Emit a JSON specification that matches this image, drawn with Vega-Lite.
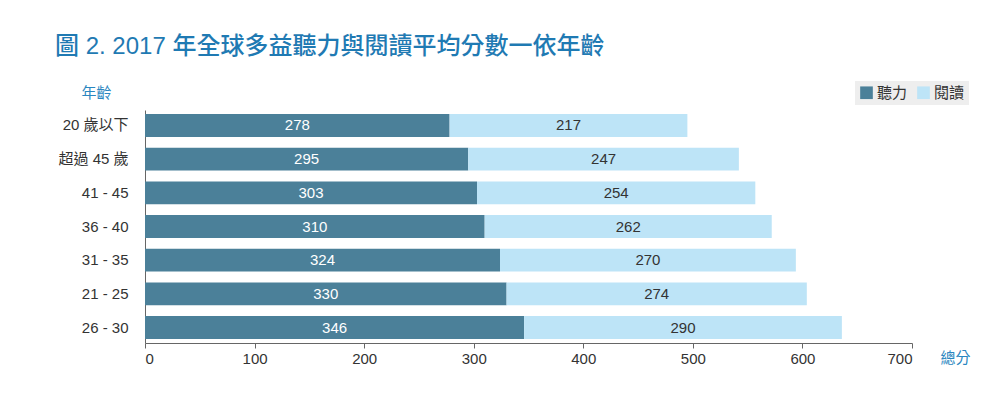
{
  "$schema": "https://vega.github.io/schema/vega-lite/v6.json",
  "autosize": {"type": "none"},
  "width": 767,
  "height": 233,
  "padding": {"left": 145, "top": 110, "right": 88, "bottom": 56},
  "background": "white",
  "config": {
    "font": "Liberation Sans, Noto Sans CJK TC",
    "view": {"stroke": null}
  },
  "title": {
    "text": "圖 2. 2017 年全球多益聽力與閱讀平均分數一依年齡",
    "anchor": "start",
    "frame": "group",
    "dx": -90,
    "offset": 22,
    "fontSize": 24,
    "fontWeight": 500,
    "color": "#1f7ab3",
    "font": "Liberation Sans, Noto Sans CJK TC"
  },
  "data": {
    "values": [
      {"age": "20 歲以下", "type": "聽力", "order": 1, "value": 278},
      {"age": "20 歲以下", "type": "閱讀", "order": 2, "value": 217},
      {"age": "超過 45 歲", "type": "聽力", "order": 1, "value": 295},
      {"age": "超過 45 歲", "type": "閱讀", "order": 2, "value": 247},
      {"age": "41 - 45", "type": "聽力", "order": 1, "value": 303},
      {"age": "41 - 45", "type": "閱讀", "order": 2, "value": 254},
      {"age": "36 - 40", "type": "聽力", "order": 1, "value": 310},
      {"age": "36 - 40", "type": "閱讀", "order": 2, "value": 262},
      {"age": "31 - 35", "type": "聽力", "order": 1, "value": 324},
      {"age": "31 - 35", "type": "閱讀", "order": 2, "value": 270},
      {"age": "21 - 25", "type": "聽力", "order": 1, "value": 330},
      {"age": "21 - 25", "type": "閱讀", "order": 2, "value": 274},
      {"age": "26 - 30", "type": "聽力", "order": 1, "value": 346},
      {"age": "26 - 30", "type": "閱讀", "order": 2, "value": 290}
    ]
  },
  "transform": [
    {"stack": "value", "groupby": ["age"], "sort": [{"field": "order"}], "as": ["x0", "x1"]},
    {"calculate": "(datum.x0 + datum.x1) / 2", "as": "mid"}
  ],
  "encoding": {
    "y": {
      "field": "age",
      "type": "nominal",
      "sort": ["20 歲以下", "超過 45 歲", "41 - 45", "36 - 40", "31 - 35", "21 - 25", "26 - 30"],
      "scale": {"paddingInner": 0.32, "paddingOuter": 0.12},
      "axis": {
        "title": "年齡",
        "titleAngle": 0,
        "titleX": -49,
        "titleY": -18,
        "titleAlign": "center",
        "titleBaseline": "middle",
        "titleColor": "#2a86c0",
        "titleFontSize": 15,
        "titleFontWeight": "normal",
        "labelFontSize": 15,
        "labelColor": "#333333",
        "labelPadding": 17,
        "ticks": false,
        "domainColor": "#666666",
        "domainWidth": 1
      }
    }
  },
  "layer": [
    {
      "mark": {"type": "bar"},
      "encoding": {
        "x": {
          "field": "x0",
          "type": "quantitative",
          "scale": {"domain": [0, 700], "nice": false},
          "axis": {
            "values": [0, 100, 200, 300, 400, 500, 600, 700],
            "grid": false,
            "title": "總分",
            "titleX": 810,
            "titleY": 14,
            "titleAlign": "center",
            "titleBaseline": "middle",
            "titleColor": "#2a86c0",
            "titleFontSize": 15,
            "titleFontWeight": "normal",
            "labelFontSize": 15,
            "labelColor": "#333333",
            "labelPadding": 3,
            "tickSize": 5,
            "tickColor": "#666666",
            "domainColor": "#666666"
          }
        },
        "x2": {"field": "x1"},
        "color": {
          "field": "type",
          "type": "nominal",
          "scale": {"domain": ["聽力", "閱讀"], "range": ["#4b8099", "#bde4f7"]},
          "legend": {
            "title": null,
            "orient": "none",
            "legendX": 710,
            "legendY": -29,
            "direction": "horizontal",
            "fillColor": "#eeeeee",
            "padding": 4,
            "symbolType": "square",
            "symbolSize": 160,
            "symbolStrokeWidth": 0,
            "labelFontSize": 15,
            "labelColor": "#333333",
            "columnPadding": 8,
            "labelOffset": 3
          }
        }
      }
    },
    {
      "mark": {"type": "text", "fontSize": 15, "baseline": "middle", "align": "center"},
      "encoding": {
        "x": {"field": "mid", "type": "quantitative"},
        "text": {"field": "value", "type": "quantitative"},
        "color": {
          "condition": {"test": "datum.type === '聽力'", "value": "#ffffff"},
          "value": "#333333"
        }
      }
    }
  ]
}
